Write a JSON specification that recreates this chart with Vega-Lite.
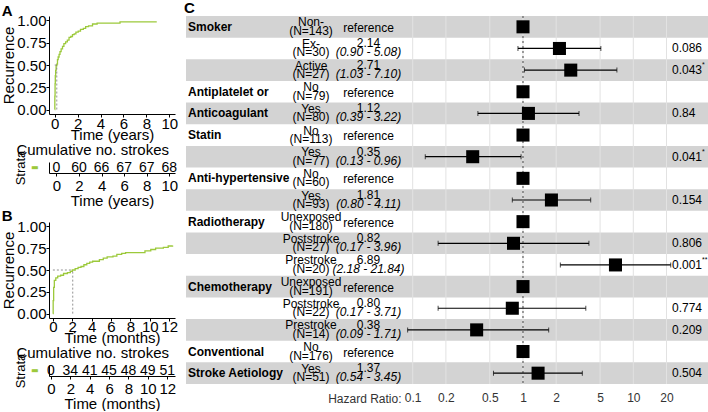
{
  "$schema": "https://vega.github.io/schema/vega-lite/v6.json",
  "padding": {"left": 1, "top": 1, "right": 0, "bottom": 0},
  "config": {
    "font": "Liberation Sans",
    "view": {"stroke": null},
    "axis": {
      "grid": false,
      "domainColor": "black",
      "tickColor": "black",
      "labelColor": "black",
      "titleColor": "black",
      "titleFontWeight": "normal",
      "labelFont": "Liberation Sans",
      "titleFont": "Liberation Sans",
      "labelOverlap": false
    },
    "title": {"font": "Liberation Sans"}
  },
  "datasets": {
    "yearsCurve": [
      {"t": 0, "r": 0}, {"t": 0.01, "r": 0.15}, {"t": 0.03, "r": 0.29}, {"t": 0.05, "r": 0.38},
      {"t": 0.08, "r": 0.44}, {"t": 0.12, "r": 0.49}, {"t": 0.18, "r": 0.51}, {"t": 0.24, "r": 0.56},
      {"t": 0.3, "r": 0.59}, {"t": 0.38, "r": 0.62}, {"t": 0.46, "r": 0.65}, {"t": 0.56, "r": 0.68},
      {"t": 0.68, "r": 0.71}, {"t": 0.8, "r": 0.74}, {"t": 0.95, "r": 0.76}, {"t": 1.1, "r": 0.78},
      {"t": 1.25, "r": 0.81}, {"t": 1.4, "r": 0.82}, {"t": 1.55, "r": 0.84}, {"t": 1.7, "r": 0.85},
      {"t": 1.85, "r": 0.87}, {"t": 2.05, "r": 0.88}, {"t": 2.25, "r": 0.9}, {"t": 2.5, "r": 0.91},
      {"t": 2.7, "r": 0.93}, {"t": 2.95, "r": 0.94}, {"t": 3.3, "r": 0.96}, {"t": 3.7, "r": 0.97},
      {"t": 5.7, "r": 0.985}, {"t": 8.85, "r": 0.99}
    ],
    "monthsCurve": [
      {"t": 0, "r": 0}, {"t": 0.03, "r": 0.15}, {"t": 0.08, "r": 0.3}, {"t": 0.15, "r": 0.38},
      {"t": 0.3, "r": 0.41}, {"t": 0.5, "r": 0.43}, {"t": 0.8, "r": 0.44}, {"t": 1.1, "r": 0.46},
      {"t": 1.5, "r": 0.47}, {"t": 1.8, "r": 0.485}, {"t": 2.0, "r": 0.5}, {"t": 2.3, "r": 0.515},
      {"t": 2.6, "r": 0.53}, {"t": 2.9, "r": 0.54}, {"t": 3.2, "r": 0.56}, {"t": 3.5, "r": 0.575},
      {"t": 3.8, "r": 0.59}, {"t": 4.1, "r": 0.6}, {"t": 4.8, "r": 0.62}, {"t": 5.2, "r": 0.635},
      {"t": 5.6, "r": 0.65}, {"t": 6.2, "r": 0.66}, {"t": 6.6, "r": 0.68}, {"t": 7.1, "r": 0.69},
      {"t": 7.5, "r": 0.7}, {"t": 9.5, "r": 0.72}, {"t": 10.1, "r": 0.735}, {"t": 10.6, "r": 0.75},
      {"t": 11.4, "r": 0.76}, {"t": 11.9, "r": 0.775}, {"t": 12.35, "r": 0.78}
    ],
    "yearsTable": [
      {"strata": "All", "t": 0, "n": 0}, {"strata": "All", "t": 2, "n": 60},
      {"strata": "All", "t": 4, "n": 66}, {"strata": "All", "t": 6, "n": 67},
      {"strata": "All", "t": 8, "n": 67}, {"strata": "All", "t": 10, "n": 68}
    ],
    "monthsTable": [
      {"strata": "All", "t": 0, "n": 0}, {"strata": "All", "t": 2, "n": 34},
      {"strata": "All", "t": 4, "n": 41}, {"strata": "All", "t": 6, "n": 45},
      {"strata": "All", "t": 8, "n": 48}, {"strata": "All", "t": 10, "n": 49},
      {"strata": "All", "t": 12, "n": 51}
    ],
    "forest": [
      {"row": 1, "variable": "Smoker", "level": "Non-", "n": 143, "hr": 1, "ref": true},
      {"row": 2, "level": "Ex-", "n": 30, "hr": 2.14, "lo": 0.9, "hi": 5.08, "p": 0.086},
      {"row": 3, "level": "Active", "n": 27, "hr": 2.71, "lo": 1.03, "hi": 7.1, "p": 0.043, "sig": "*"},
      {"row": 4, "variable": "Antiplatelet or", "level": "No", "n": 79, "hr": 1, "ref": true},
      {"row": 5, "variable": "Anticoagulant", "level": "Yes", "n": 80, "hr": 1.12, "lo": 0.39, "hi": 3.22, "p": 0.84},
      {"row": 6, "variable": "Statin", "level": "No", "n": 113, "hr": 1, "ref": true},
      {"row": 7, "level": "Yes", "n": 77, "hr": 0.35, "lo": 0.13, "hi": 0.96, "p": 0.041, "sig": "*"},
      {"row": 8, "variable": "Anti-hypertensive", "level": "No", "n": 60, "hr": 1, "ref": true},
      {"row": 9, "level": "Yes", "n": 93, "hr": 1.81, "lo": 0.8, "hi": 4.11, "p": 0.154},
      {"row": 10, "variable": "Radiotherapy", "level": "Unexposed", "n": 180, "hr": 1, "ref": true},
      {"row": 11, "level": "Poststroke", "n": 27, "hr": 0.82, "lo": 0.17, "hi": 3.96, "p": 0.806},
      {"row": 12, "level": "Prestroke", "n": 20, "hr": 6.89, "lo": 2.18, "hi": 21.84, "p": 0.001, "sig": "**"},
      {"row": 13, "variable": "Chemotherapy", "level": "Unexposed", "n": 191, "hr": 1, "ref": true},
      {"row": 14, "level": "Poststroke", "n": 22, "hr": 0.8, "lo": 0.17, "hi": 3.71, "p": 0.774},
      {"row": 15, "level": "Prestroke", "n": 14, "hr": 0.38, "lo": 0.09, "hi": 1.71, "p": 0.209},
      {"row": 16, "variable": "Conventional", "level": "No", "n": 176, "hr": 1, "ref": true},
      {"row": 17, "variable": "Stroke Aetiology", "level": "Yes", "n": 51, "hr": 1.37, "lo": 0.54, "hi": 3.45, "p": 0.504}
    ],
    "hrTicks": [
      {"v": 0.1}, {"v": 0.2}, {"v": 0.5}, {"v": 1}, {"v": 2}, {"v": 5}, {"v": 10}, {"v": 20}
    ]
  },
  "spacing": 6,
  "hconcat": [
    {
      "spacing": 1,
      "vconcat": [
        {
          "width": 126,
          "height": 98,
          "title": {"text": "A", "anchor": "start", "frame": "bounds", "fontSize": 15, "fontWeight": "bold", "offset": -6},
          "encoding": {
            "x": {"field": "t", "type": "quantitative",
                  "scale": {"domain": [-0.5, 10.5], "nice": false, "zero": false},
                  "axis": {"values": [0, 2, 4, 6, 8, 10], "title": "Time (years)", "labelFontSize": 15, "titleFontSize": 15,
                           "tickSize": 3, "labelPadding": -1, "titlePadding": -4, "labelFlush": false, "labelOverlap": false}},
            "y": {"field": "r", "type": "quantitative",
                  "scale": {"domain": [-0.05, 1.05], "nice": false, "zero": false},
                  "axis": {"values": [0, 0.25, 0.5, 0.75, 1], "format": ".2f", "title": "Recurrence", "labelFontSize": 15,
                           "titleFontSize": 15, "tickSize": 3, "labelPadding": 0, "titlePadding": 0, "labelOverlap": false}}
          },
          "layer": [
            {
              "data": {"name": "yearsCurve"},
              "mark": {"type": "line", "interpolate": "step-after", "color": "#9cc93b", "strokeWidth": 1.3}
            },
            {
              "data": {"values": [{"t": 0.18, "r": 0, "level": 0.5}]},
              "mark": {"type": "rule", "color": "#777", "strokeDash": [2, 2], "strokeWidth": 0.8},
              "encoding": {"y2": {"field": "level"}}
            },
            {
              "data": {"values": [{"t": 0, "r": 0.5, "median": 0.18}]},
              "mark": {"type": "rule", "color": "#777", "strokeDash": [2, 2], "strokeWidth": 0.8},
              "encoding": {"x2": {"field": "median"}}
            }
          ]
        },
        {
          "width": 126,
          "height": 11,
          "title": {"text": "Cumulative no. strokes", "anchor": "start", "frame": "bounds", "dx": 2, "fontSize": 15, "fontWeight": "normal", "offset": -8},
          "data": {"name": "yearsTable"},
          "mark": {"type": "text", "fontSize": 14, "color": "black"},
          "encoding": {
            "x": {"field": "t", "type": "quantitative",
                  "scale": {"domain": [-0.65, 10.5], "nice": false, "zero": false},
                  "axis": {"values": [0, 2, 4, 6, 8, 10], "title": "Time (years)", "labelFontSize": 15, "titleFontSize": 15,
                           "tickSize": 3, "labelPadding": 2, "titlePadding": 0, "labelFlush": false, "labelOverlap": false}},
            "y": {"field": "strata", "type": "nominal",
                  "axis": {"title": "Strata", "labelExpr": "'▬'", "labelColor": "#9cc93b", "labelFont": "DejaVu Sans", "labelFontSize": 8,
                           "ticks": false, "labelPadding": 11, "titleFontSize": 13, "titlePadding": 3}},
            "text": {"field": "n", "type": "quantitative"}
          }
        },
        {
          "width": 126,
          "height": 96,
          "title": {"text": "B", "anchor": "start", "frame": "bounds", "fontSize": 15, "fontWeight": "bold", "offset": -5},
          "encoding": {
            "x": {"field": "t", "type": "quantitative",
                  "scale": {"domain": [-0.4, 12.6], "nice": false, "zero": false},
                  "axis": {"values": [0, 2, 4, 6, 8, 10, 12], "title": "Time (months)", "labelFontSize": 15, "titleFontSize": 15,
                           "tickSize": 3, "labelPadding": -2, "titlePadding": -4, "labelFlush": false, "labelOverlap": false}},
            "y": {"field": "r", "type": "quantitative",
                  "scale": {"domain": [-0.05, 1.05], "nice": false, "zero": false},
                  "axis": {"values": [0, 0.25, 0.5, 0.75, 1], "format": ".2f", "title": "Recurrence", "labelFontSize": 15,
                           "titleFontSize": 15, "tickSize": 3, "labelPadding": 0, "titlePadding": 0, "labelOverlap": false}}
          },
          "layer": [
            {
              "data": {"name": "monthsCurve"},
              "mark": {"type": "line", "interpolate": "step-after", "color": "#9cc93b", "strokeWidth": 1.3}
            },
            {
              "data": {"values": [{"t": 2.05, "r": 0, "level": 0.5}]},
              "mark": {"type": "rule", "color": "#777", "strokeDash": [2, 2], "strokeWidth": 0.8},
              "encoding": {"y2": {"field": "level"}}
            },
            {
              "data": {"values": [{"t": 0, "r": 0.5, "median": 2.05}]},
              "mark": {"type": "rule", "color": "#777", "strokeDash": [2, 2], "strokeWidth": 0.8},
              "encoding": {"x2": {"field": "median"}}
            }
          ]
        },
        {
          "width": 126,
          "height": 11,
          "title": {"text": "Cumulative no. strokes", "anchor": "start", "frame": "bounds", "dx": 2, "fontSize": 15, "fontWeight": "normal", "offset": -8},
          "data": {"name": "monthsTable"},
          "mark": {"type": "text", "fontSize": 14, "color": "black"},
          "encoding": {
            "x": {"field": "t", "type": "quantitative",
                  "scale": {"domain": [-0.2, 12.8], "nice": false, "zero": false},
                  "axis": {"values": [0, 2, 4, 6, 8, 10, 12], "title": "Time (months)", "labelFontSize": 15, "titleFontSize": 15,
                           "tickSize": 3, "labelPadding": 2, "titlePadding": 0, "labelFlush": false, "labelOverlap": false}},
            "y": {"field": "strata", "type": "nominal",
                  "axis": {"title": "Strata", "labelExpr": "'▬'", "labelColor": "#9cc93b", "labelFont": "DejaVu Sans", "labelFontSize": 8,
                           "ticks": false, "labelPadding": 11, "titleFontSize": 13, "titlePadding": 3}},
            "text": {"field": "n", "type": "quantitative"}
          }
        }
      ]
    },
    {
      "spacing": 0,
      "bounds": "flush",
      "hconcat": [
        {
          "width": 98,
          "height": 368,
          "title": {"text": "C", "anchor": "start", "dx": -2, "fontSize": 15, "fontWeight": "bold", "offset": 0},
          "data": {"name": "forest"},
          "layer": [
            {
              "transform": [{"filter": "datum.row % 2 == 1"}],
              "mark": {"type": "rect", "color": "#d3d3d3"},
              "encoding": {
                "x": {"value": 0}, "x2": {"value": "width"},
                "y": {"field": "row", "type": "ordinal", "axis": null,
                      "scale": {"domain": [1, 2, 3, 4, 5, 6, 7, 8, 9, 10, 11, 12, 13, 14, 15, 16, 17], "paddingInner": 0, "paddingOuter": 0}}
              }
            },
            {
              "transform": [{"filter": "datum.variable"}],
              "mark": {"type": "text", "align": "left", "fontWeight": "bold", "fontSize": 12, "dx": 2, "color": "black"},
              "encoding": {
                "x": {"datum": 0, "type": "quantitative", "scale": {"domain": [0, 1]}, "axis": null},
                "y": {"field": "row", "type": "ordinal"},
                "text": {"field": "variable", "type": "nominal"}
              }
            }
          ]
        },
        {
          "width": 58,
          "height": 368,
          "data": {"name": "forest"},
          "layer": [
            {
              "transform": [{"filter": "datum.row % 2 == 1"}],
              "mark": {"type": "rect", "color": "#d3d3d3"},
              "encoding": {
                "x": {"value": 0}, "x2": {"value": "width"},
                "y": {"field": "row", "type": "ordinal", "axis": null,
                      "scale": {"domain": [1, 2, 3, 4, 5, 6, 7, 8, 9, 10, 11, 12, 13, 14, 15, 16, 17], "paddingInner": 0, "paddingOuter": 0}}
              }
            },
            {
              "mark": {"type": "text", "fontSize": 12, "dx": -2, "dy": -4.5, "color": "black"},
              "encoding": {"y": {"field": "row", "type": "ordinal"}, "text": {"field": "level", "type": "nominal"}}
            },
            {
              "transform": [{"calculate": "'(N=' + datum.n + ')'", "as": "nLabel"}],
              "mark": {"type": "text", "fontSize": 12, "dx": -2, "dy": 4, "color": "black"},
              "encoding": {"y": {"field": "row", "type": "ordinal"}, "text": {"field": "nLabel", "type": "nominal"}}
            }
          ]
        },
        {
          "width": 60,
          "height": 368,
          "data": {"name": "forest"},
          "layer": [
            {
              "transform": [{"filter": "datum.row % 2 == 1"}],
              "mark": {"type": "rect", "color": "#d3d3d3"},
              "encoding": {
                "x": {"value": 0}, "x2": {"value": "width"},
                "y": {"field": "row", "type": "ordinal", "axis": null,
                      "scale": {"domain": [1, 2, 3, 4, 5, 6, 7, 8, 9, 10, 11, 12, 13, 14, 15, 16, 17], "paddingInner": 0, "paddingOuter": 0}}
              }
            },
            {
              "transform": [{"filter": "datum.ref"}, {"calculate": "'reference'", "as": "refLabel"}],
              "mark": {"type": "text", "fontSize": 12, "dx": -3.5, "dy": 1, "color": "black"},
              "encoding": {"y": {"field": "row", "type": "ordinal"}, "text": {"field": "refLabel", "type": "nominal"}}
            },
            {
              "transform": [{"filter": "!datum.ref"}, {"calculate": "format(datum.hr, '.2f')", "as": "hrLabel"}],
              "mark": {"type": "text", "fontSize": 12, "dx": -3.5, "dy": -5, "color": "black"},
              "encoding": {"y": {"field": "row", "type": "ordinal"}, "text": {"field": "hrLabel", "type": "nominal"}}
            },
            {
              "transform": [{"filter": "!datum.ref"}, {"calculate": "'(' + format(datum.lo, '.2f') + ' - ' + format(datum.hi, '.2f') + ')'", "as": "ciLabel"}],
              "mark": {"type": "text", "fontSize": 12, "fontStyle": "italic", "dx": -3.5, "dy": 4, "color": "black"},
              "encoding": {"y": {"field": "row", "type": "ordinal"}, "text": {"field": "ciLabel", "type": "nominal"}}
            }
          ]
        },
        {
          "width": 271,
          "height": 368,
          "data": {"name": "forest"},
          "layer": [
            {
              "transform": [{"filter": "datum.row % 2 == 1"}],
              "mark": {"type": "rect", "color": "#d3d3d3"},
              "encoding": {
                "x": {"value": 0}, "x2": {"value": "width"},
                "y": {"field": "row", "type": "ordinal", "axis": null,
                      "scale": {"domain": [1, 2, 3, 4, 5, 6, 7, 8, 9, 10, 11, 12, 13, 14, 15, 16, 17], "paddingInner": 0, "paddingOuter": 0}}
              }
            },
            {
              "data": {"name": "hrTicks"},
              "mark": {"type": "rule", "color": "#e2e2e2", "strokeWidth": 1},
              "encoding": {
                "x": {"field": "v", "type": "quantitative",
                      "scale": {"type": "log", "domain": [0.08, 22.9], "nice": false},
                      "axis": {"values": [0.1, 0.2, 0.5, 1, 2, 5, 10, 20], "format": "~g", "domain": false, "ticks": false,
                               "labelFontSize": 12, "labelColor": "#333", "labelPadding": 8, "labelOverlap": false,
                               "title": "Hazard Ratio:", "titleFontSize": 12, "titleColor": "#333", "titleAlign": "right",
                               "titleBaseline": "middle", "titleX": -1, "titleY": 14, "titleAngle": 0}}
              }
            },
            {
              "data": {"values": [{"v": 1}]},
              "mark": {"type": "rule", "color": "#444", "strokeDash": [2, 3], "strokeWidth": 1},
              "encoding": {"x": {"field": "v", "type": "quantitative"}}
            },
            {
              "transform": [{"filter": "!datum.ref"}],
              "mark": {"type": "rule", "color": "black", "strokeWidth": 1.2},
              "encoding": {"x": {"field": "lo", "type": "quantitative"}, "x2": {"field": "hi"}, "y": {"field": "row", "type": "ordinal"}}
            },
            {
              "transform": [{"filter": "!datum.ref"}],
              "mark": {"type": "tick", "color": "black", "size": 5, "thickness": 1},
              "encoding": {"x": {"field": "lo", "type": "quantitative"}, "y": {"field": "row", "type": "ordinal"}}
            },
            {
              "transform": [{"filter": "!datum.ref"}],
              "mark": {"type": "tick", "color": "black", "size": 5, "thickness": 1},
              "encoding": {"x": {"field": "hi", "type": "quantitative"}, "y": {"field": "row", "type": "ordinal"}}
            },
            {
              "mark": {"type": "point", "shape": "square", "filled": true, "color": "black", "opacity": 1, "size": 170},
              "encoding": {"x": {"field": "hr", "type": "quantitative"}, "y": {"field": "row", "type": "ordinal"}}
            }
          ]
        },
        {
          "width": 36,
          "height": 368,
          "data": {"name": "forest"},
          "layer": [
            {
              "transform": [{"filter": "datum.row % 2 == 1"}],
              "mark": {"type": "rect", "color": "#d3d3d3"},
              "encoding": {
                "x": {"value": 0}, "x2": {"value": "width"},
                "y": {"field": "row", "type": "ordinal", "axis": null,
                      "scale": {"domain": [1, 2, 3, 4, 5, 6, 7, 8, 9, 10, 11, 12, 13, 14, 15, 16, 17], "paddingInner": 0, "paddingOuter": 0}}
              }
            },
            {
              "transform": [{"filter": "!datum.ref"}],
              "mark": {"type": "text", "align": "left", "fontSize": 12, "dx": -1, "color": "black"},
              "encoding": {
                "x": {"datum": 0, "type": "quantitative", "scale": {"domain": [0, 1]}, "axis": null},
                "y": {"field": "row", "type": "ordinal"},
                "text": {"field": "p", "type": "nominal"}
              }
            },
            {
              "transform": [{"filter": "datum.sig"}],
              "mark": {"type": "text", "align": "left", "fontSize": 7, "dx": 29, "dy": -5, "color": "black"},
              "encoding": {
                "x": {"datum": 0, "type": "quantitative"},
                "y": {"field": "row", "type": "ordinal"},
                "text": {"field": "sig", "type": "nominal"}
              }
            }
          ]
        }
      ]
    }
  ]
}
